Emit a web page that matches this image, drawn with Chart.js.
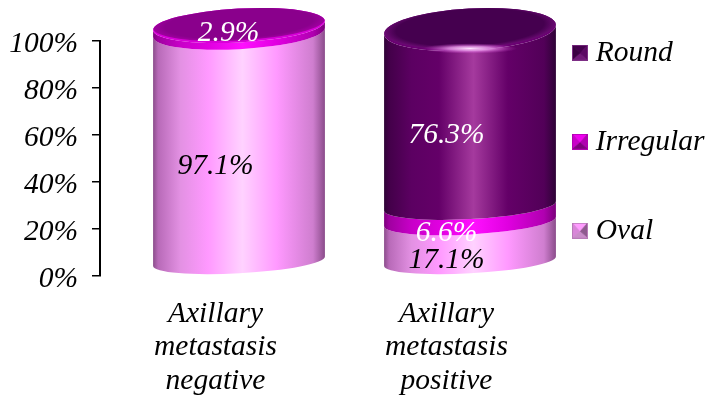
<!DOCTYPE html>
<html>
<head>
<meta charset="utf-8">
<title>Axillary metastasis by shape</title>
<script src="https://cdn.jsdelivr.net/npm/chart.js@4"></script>
<style>
    html, body { margin: 0; padding: 0; background: #fff; }
    #wrap { position: relative; width: 708px; height: 395px; }
</style>
</head>
<body>
<div id="wrap"><canvas id="shapeChart"></canvas></div>
<script>
// Chart data
const categories = [
    ['Axillary', 'metastasis', 'negative'],
    ['Axillary', 'metastasis', 'positive']
];
const oval = [97.1, 17.1];
const irregular = [2.9, 6.6];
const round = [0, 76.3];
const yTicks = [0, 20, 40, 60, 80, 100];

const serif = 'Liberation Serif, Times New Roman, serif';
const fontSize = 29.5;

// Side shading of each cylinder, left to right
const OFFS = [0, 0.03, 0.16, 0.32, 0.52, 0.72, 0.93, 1];
const ovalSide = ['#8a4c8a', '#b86ab8', '#e391e3', '#ff99ff', '#ffd2ff', '#ff99ff', '#cf7ecf', '#8a4c8a'];
const irregularSide = ['#7a007a', '#a000a0', '#c800c8', '#e000e0', '#ff10ff', '#e000e0', '#b000b0', '#7a007a'];
const roundSide = ['#2e0336', '#430049', '#5c0062', '#640068', '#a53a9e', '#640068', '#520058', '#2e0336'];

// Square legend marker with bevelled faces
function makeMarker(top, left, right, bottom, border) {
    const c = document.createElement('canvas');
    c.width = 16;
    c.height = 16;
    const g = c.getContext('2d');
    const face = (x1, y1, x2, y2, color) => {
        g.fillStyle = color;
        g.strokeStyle = color;
        g.beginPath();
        g.moveTo(x1, y1);
        g.lineTo(x2, y2);
        g.lineTo(8, 9);
        g.closePath();
        g.fill();
        g.stroke();
    };
    face(0, 0, 16, 0, top);
    face(16, 0, 16, 16, right);
    face(0, 16, 0, 0, left);
    face(16, 16, 0, 16, bottom);
    g.strokeStyle = border;
    g.strokeRect(0.5, 0.5, 15, 15);
    return c;
}

const markers = {
    Round: makeMarker('#45004d', '#3a0042', '#5c0a64', '#701a78', '#7d2e85'),
    Irregular: makeMarker('#f000f0', '#c800c8', '#b000b0', '#7d007d', '#b000b0'),
    Oval: makeMarker('#ff9cff', '#d886d8', '#8f5a8f', '#c98cc9', '#b97ab9')
};

// The cylinders sit behind the axis plane: shifted right, up, and slightly tilted
const TILT = -0.055;
const DEPTH_X = 23.5;
function centerY(y, v) { return y - 14 - v * 0.015; }
function radiusY(v) { return 12 + v * 0.05; }

function sideGradient(ctx, left, right, colors) {
    const grad = ctx.createLinearGradient(left, 0, right, 0);
    OFFS.forEach((o, i) => grad.addColorStop(o, colors[i]));
    return grad;
}

function drawCap(ctx, cx, cy, rx, ry, ds) {
    ctx.save();
    ctx.beginPath();
    ctx.ellipse(cx, cy, rx, ry, TILT, 0, Math.PI * 2);
    ctx.fillStyle = ds.capRim;
    ctx.fill();
    ctx.clip();

    // inner face of the lid
    ctx.translate(cx, cy - 2);
    ctx.rotate(TILT);
    ctx.scale(1, ry / rx);
    const inner = ctx.createRadialGradient(0, 0, rx * 0.3, 0, 0, rx);
    inner.addColorStop(0, ds.capCenter);
    inner.addColorStop(0.8, ds.capCenter);
    inner.addColorStop(1, ds.capEdge);
    ctx.fillStyle = inner;
    ctx.beginPath();
    ctx.arc(0, 0, rx, 0, Math.PI * 2);
    ctx.fill();
    ctx.restore();

    // light catching the front lip
    if (ds.capGlow) {
        ctx.save();
        ctx.translate(cx, cy + ry - 2);
        ctx.scale(1, 0.11);
        const glow = ctx.createRadialGradient(0, 0, 0, 0, 0, rx * 0.55);
        glow.addColorStop(0, ds.capGlow);
        glow.addColorStop(0.45, 'rgba(235,150,235,0.8)');
        glow.addColorStop(1, 'rgba(200,60,200,0)');
        ctx.fillStyle = glow;
        ctx.beginPath();
        ctx.arc(0, 0, rx * 0.55, 0, Math.PI * 2);
        ctx.fill();
        ctx.restore();
    }
}

// Draws the stacked bars as cylinders using the positions the bar elements got from the scales
const cylinders = {
    id: 'cylinders',
    afterLayout(chart) {
        const pad = chart.legend.options.labels.padding;
        chart.legend.top = 38 - pad;
        chart.legend.left = 579 - pad;
    },
    afterDatasetsDraw(chart) {
        const { ctx, data } = chart;
        const n = categories.length;
        for (let i = 0; i < n; i++) {
            let total = 0;
            let lastDs = null;
            let topBar = null;
            data.datasets.forEach((ds, d) => {
                const bar = chart.getDatasetMeta(d).data[i];
                const value = ds.data[i];
                if (!value) return;
                const cx = bar.x + DEPTH_X;
                const rx = bar.width / 2;
                const v0 = total;
                const v1 = total + value;
                const y0 = centerY(bar.base, v0);
                const y1 = centerY(bar.y, v1) + (ds.capDrop || 0);
                const ry1 = radiusY(v1) + (ds.capDrop || 0);
                ctx.save();
                ctx.beginPath();
                ctx.ellipse(cx, y0, rx, radiusY(v0), TILT, 0, Math.PI);
                ctx.ellipse(cx, y1, rx, ry1, TILT, Math.PI, 0, true);
                ctx.closePath();
                ctx.fillStyle = sideGradient(ctx, cx - rx, cx + rx, ds.side);
                ctx.fill();
                ctx.restore();
                total = v1;
                lastDs = ds;
                topBar = { cx, rx, y: y1, ry: ry1 };
            });
            drawCap(ctx, topBar.cx, topBar.y, topBar.rx, topBar.ry, lastDs);
        }

        // Value labels
        ctx.save();
        ctx.font = 'italic ' + fontSize + 'px ' + serif;
        ctx.textAlign = 'center';
        ctx.textBaseline = 'middle';
        data.datasets.forEach((ds, d) => {
            chart.getDatasetMeta(d).data.forEach((bar, i) => {
                const value = ds.data[i];
                if (!value) return;
                const onLid = value < 5 && i === 0;
                const dx = onLid ? 13 : 0;
                const dy = onLid ? -11 : 5;
                ctx.fillStyle = ds.labelColor;
                ctx.fillText(value.toFixed(1) + '%', bar.x + dx, (bar.y + bar.base) / 2 + dy);
            });
        });
        ctx.restore();
    }
};

const shapeChart = new Chart(document.getElementById('shapeChart'), {
    type: 'bar',
    data: {
        labels: categories,
        datasets: [
            {
                label: 'Oval', data: oval, side: ovalSide, labelColor: '#000',
                capRim: '#ffb0ff', capCenter: '#ff99ff', capEdge: '#e080e0'
            },
            {
                label: 'Irregular', data: irregular, side: irregularSide, labelColor: '#fff',
                capRim: '#d800d8', capCenter: '#8a008c', capEdge: '#a000a0'
            },
            {
                label: 'Round', data: round, side: roundSide, labelColor: '#fff', capDrop: 4,
                capRim: '#6a0072', capCenter: '#45004f', capEdge: '#6a0a72', capGlow: '#ffe4ff'
            }
        ]
    },
    options: {
        responsive: true,
        maintainAspectRatio: false,
        animation: false,
        backgroundColor: 'rgba(0,0,0,0)',
        datasets: { bar: { categoryPercentage: 1, barPercentage: 0.745 } },
        layout: { padding: { top: 41, left: 0, right: 0, bottom: 0 } },
        plugins: {
            tooltip: { enabled: false },
            legend: {
                position: 'right',
                align: 'start',
                maxWidth: 146,
                labels: {
                    usePointStyle: true,
                    boxWidth: 2,
                    padding: 59.5,
                    color: '#000',
                    font: { family: serif, size: fontSize, style: 'italic' },
                    generateLabels(chart) {
                        return chart.data.datasets.map((ds, i) => ({
                            text: ds.label,
                            pointStyle: markers[ds.label],
                            datasetIndex: i,
                            fillStyle: 'transparent',
                            strokeStyle: 'transparent',
                            lineWidth: 0
                        })).reverse();
                    }
                }
            }
        },
        scales: {
            x: {
                stacked: true,
                border: { display: false },
                grid: { display: false },
                afterFit(scale) { scale.height = 119; },
                ticks: {
                    color: '#000',
                    autoSkip: false,
                    maxRotation: 0,
                    padding: 13.5,
                    font: { family: serif, size: fontSize, style: 'italic', lineHeight: 1.13 }
                }
            },
            y: {
                stacked: true,
                min: 0,
                max: 100,
                border: { display: true, color: '#000', width: 2 },
                grid: { drawOnChartArea: false, drawTicks: true, tickLength: 8, color: '#000', lineWidth: 1.5 },
                afterFit(scale) { scale.width = 100; },
                afterBuildTicks(scale) { scale.ticks = yTicks.map(v => ({ value: v })); },
                ticks: {
                    color: '#000',
                    padding: 14,
                    labelOffset: 3,
                    callback: v => v + '%',
                    font: { family: serif, size: fontSize, style: 'italic' }
                }
            }
        }
    },
    plugins: [cylinders]
});
</script>
</body>
</html>
